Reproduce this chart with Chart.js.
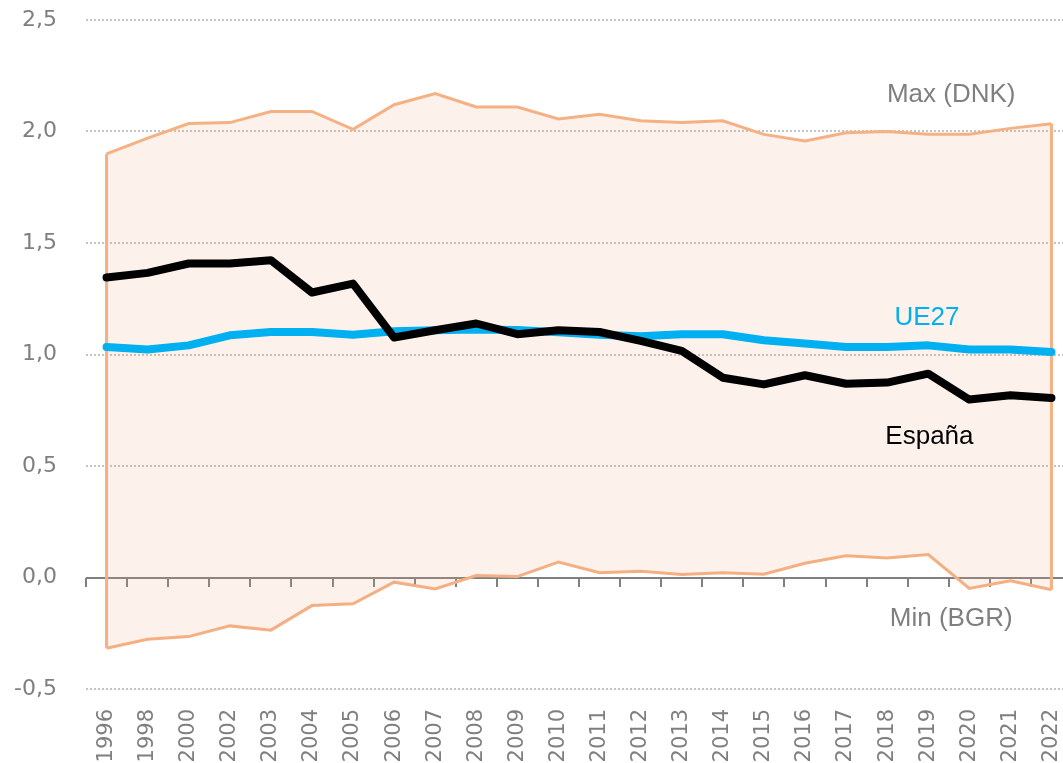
<!DOCTYPE html>
<html>
<head>
<meta charset="utf-8">
<script src="https://cdn.jsdelivr.net/npm/chart.js@4/dist/chart.umd.min.js"></script>
<style>
  html, body { margin: 0; padding: 0; background: #fff; overflow: hidden; }
  #wrap { width: 1072px; height: 763px; position: relative; }
</style>
</head>
<body>
<div id="wrap"><canvas id="grafico"></canvas></div>
<script>
const anios = ['1996', '1998', '2000', '2002', '2003', '2004', '2005', '2006', '2007', '2008', '2009', '2010',
  '2011', '2012', '2013', '2014', '2015', '2016', '2017', '2018', '2019', '2020', '2021', '2022'];

const espana = [1.345, 1.366, 1.408, 1.408, 1.423, 1.278, 1.318, 1.076, 1.109, 1.139, 1.091, 1.109,
  1.101, 1.061, 1.016, 0.896, 0.866, 0.907, 0.869, 0.874, 0.914, 0.798, 0.817, 0.805];

const ue27 = [1.034, 1.022, 1.041, 1.086, 1.101, 1.101, 1.089, 1.104, 1.109, 1.112, 1.110, 1.100,
  1.089, 1.082, 1.091, 1.091, 1.064, 1.049, 1.034, 1.034, 1.041, 1.022, 1.022, 1.011];

const maxDnk = [1.90, 1.97, 2.036, 2.04, 2.09, 2.09, 2.01, 2.12, 2.17, 2.11, 2.11, 2.056,
  2.077, 2.048, 2.04, 2.048, 1.987, 1.958, 1.994, 2.0, 1.988, 1.988, 2.014, 2.035];

const minBgr = [-0.317, -0.277, -0.265, -0.217, -0.236, -0.126, -0.118, -0.021, -0.051, 0.009, 0.004, 0.069,
  0.021, 0.028, 0.013, 0.021, 0.015, 0.064, 0.097, 0.088, 0.103, -0.049, -0.015, -0.055];

const ticksY = [-0.5, 0, 0.5, 1, 1.5, 2, 2.5];

const naranja = '#F4B183';
const gris = '#7F7F7F';

// etiquetas dentro del grafico: [texto, indice x, valor y, color]
const etiquetas = [
  ['Max (DNK)', 20.56, 2.163, gris],
  ['Min (BGR)', 20.56, -0.185, gris],
  ['UE27', 19.97, 1.163, '#00B0F0'],
  ['España', 20.03, 0.633, '#000000']
];

const extras = {
  id: 'extras',
  afterDatasetDraw(chart, args) {
    if (args.index !== 2) return;
    const { ctx } = chart;
    const x = chart.scales.x, y = chart.scales.y;
    const ult = anios.length - 1;
    ctx.save();
    ctx.strokeStyle = naranja;
    ctx.lineWidth = 3;
    [0, ult].forEach(i => {
      ctx.beginPath();
      ctx.moveTo(x.getPixelForValue(i), y.getPixelForValue(maxDnk[i]));
      ctx.lineTo(x.getPixelForValue(i), y.getPixelForValue(minBgr[i]));
      ctx.stroke();
    });
    ctx.restore();
  },
  beforeDatasetsDraw(chart) {
    // eje horizontal en 0 con marcas entre categorias
    const { ctx, chartArea } = chart;
    const x = chart.scales.x, y = chart.scales.y;
    const y0 = Math.round(y.getPixelForValue(0));
    ctx.save();
    ctx.strokeStyle = '#808080';
    ctx.lineWidth = 2;
    ctx.beginPath();
    ctx.moveTo(chartArea.left, y0);
    ctx.lineTo(chartArea.right, y0);
    for (let i = 0; i <= anios.length; i++) {
      const px = Math.round(x.getPixelForValue(i - 0.5));
      ctx.moveTo(px, y0);
      ctx.lineTo(px, y0 + 9);
    }
    ctx.stroke();
    ctx.restore();
  },
  afterDraw(chart) {
    const { ctx } = chart;
    const x = chart.scales.x, y = chart.scales.y;
    ctx.save();
    ctx.font = '26px "Liberation Sans", Arial, sans-serif';
    ctx.textAlign = 'center';
    ctx.textBaseline = 'middle';
    etiquetas.forEach(([txt, xi, yv, col]) => {
      ctx.fillStyle = col;
      ctx.fillText(txt, x.getPixelForValue(xi), y.getPixelForValue(yv));
    });
    ctx.restore();
  }
};

const ctx = document.getElementById('grafico').getContext('2d');

new Chart(ctx, {
  type: 'line',
  data: {
    labels: anios,
    datasets: [
      { label: 'España', data: espana, borderColor: '#000000', borderWidth: 8, pointRadius: 0, fill: false,
        borderJoinStyle: 'round', borderCapStyle: 'round' },
      { label: 'UE27', data: ue27, borderColor: '#00B0F0', borderWidth: 8, pointRadius: 0, fill: false,
        borderJoinStyle: 'round', borderCapStyle: 'round' },
      { label: 'Max (DNK)', data: maxDnk, borderColor: naranja, borderWidth: 3, pointRadius: 0,
        fill: '+1', backgroundColor: 'rgba(240,160,120,0.15)' },
      { label: 'Min (BGR)', data: minBgr, borderColor: naranja, borderWidth: 3, pointRadius: 0, fill: false }
    ]
  },
  options: {
    responsive: true,
    maintainAspectRatio: false,
    animation: false,
    layout: { padding: { top: 20, right: 0, left: 0, bottom: 0 } },
    plugins: {
      legend: { display: false },
      tooltip: { enabled: false }
    },
    scales: {
      x: {
        offset: true,
        grid: { display: false },
        border: { display: false },
        ticks: {
          minRotation: 90,
          maxRotation: 90,
          autoSkip: false,
          padding: 12,
          color: gris,
          font: { family: '"DejaVu Sans", Verdana, sans-serif', size: 21 }
        },
        afterFit(scale) {
          scale.height = 74;
          scale.paddingLeft = 0;
          scale.paddingRight = 0;
        }
      },
      y: {
        min: -0.5,
        max: 2.5,
        afterBuildTicks(scale) { scale.ticks = ticksY.map(v => ({ value: v })); },
        grid: {
          drawTicks: false,
          lineWidth: 2,
          color: c => (c.tick && c.tick.value === 0) ? 'rgba(0,0,0,0)' : '#C4C4C4'
        },
        border: { display: false, dash: [2, 2] },
        ticks: {
          padding: 29,
          color: gris,
          font: { family: '"DejaVu Sans", Verdana, sans-serif', size: 22 },
          callback: v => v.toFixed(1).replace('.', ',')
        },
        afterFit(scale) {
          scale.width = 86;
          scale.paddingTop = 0;
          scale.paddingBottom = 0;
        }
      }
    }
  },
  plugins: [extras]
});
</script>
</body>
</html>
